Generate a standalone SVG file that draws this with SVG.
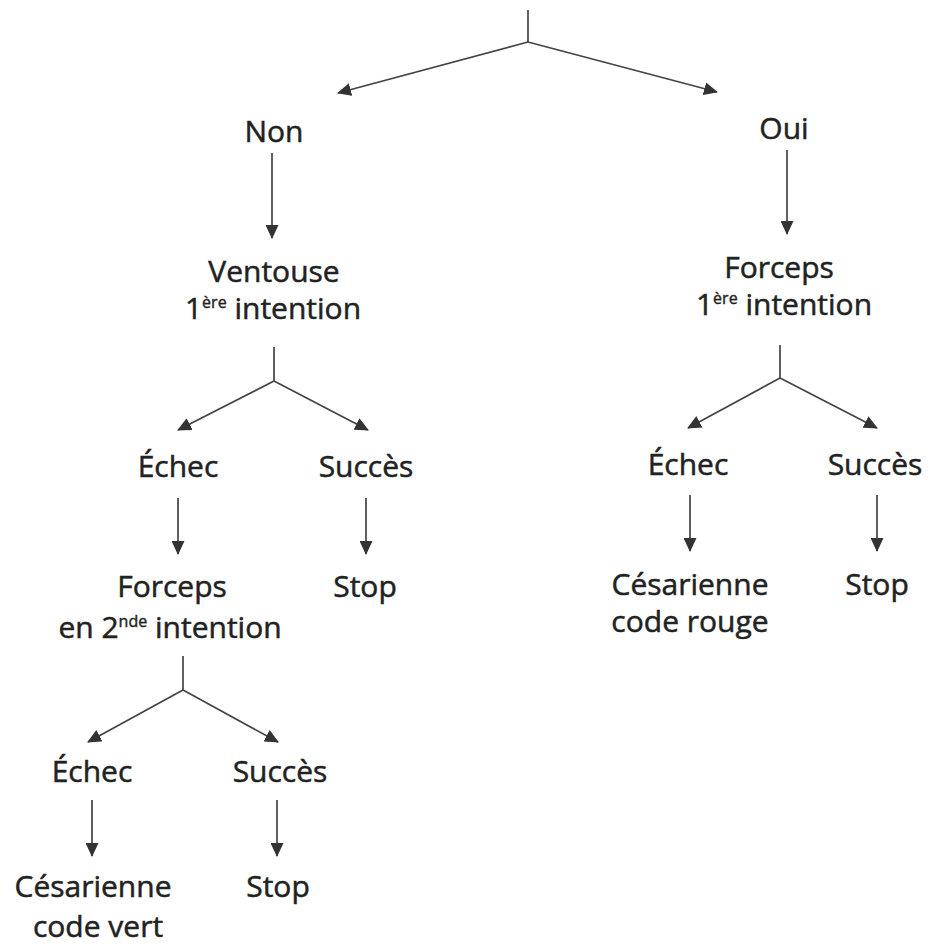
<svg xmlns="http://www.w3.org/2000/svg" width="933" height="946" viewBox="0 0 933 946">
  <style>
    .lbl { font-family: "Open Sans", "Noto Sans", "DejaVu Sans", sans-serif; font-size: 30px; fill: #222; stroke: #222; stroke-width: 0.5; text-anchor: middle; }
    .sup { font-size: 16px; stroke-width: 0.4; }
    .edge { stroke: #444; stroke-width: 1.7; fill: none; }
    .stem { stroke: #444; stroke-width: 1.7; fill: none; }
  </style>
  <defs>
    <marker id="head" viewBox="0 0 14 13" refX="13" refY="6.5" markerWidth="14" markerHeight="13" markerUnits="userSpaceOnUse" orient="auto">
      <path d="M0,0 L14,6.5 L0,13 z" fill="#333"/>
    </marker>
  </defs>

  <rect width="933" height="946" fill="#fff"/>

  <!-- connectors -->
  <g id="connectors">
    <!-- root split -->
    <path class="stem" d="M528 10 V42"/>
    <path class="edge" d="M528 42 L338 93" marker-end="url(#head)"/>
    <path class="edge" d="M528 42 L717 92" marker-end="url(#head)"/>
    <!-- Non / Oui -->
    <path class="edge" d="M272 153 V238" marker-end="url(#head)"/>
    <path class="edge" d="M787 150 V234" marker-end="url(#head)"/>
    <!-- Ventouse split -->
    <path class="stem" d="M274 347 V381"/>
    <path class="edge" d="M274 381 L178 430" marker-end="url(#head)"/>
    <path class="edge" d="M274 381 L368 430" marker-end="url(#head)"/>
    <path class="edge" d="M178 498 V554" marker-end="url(#head)"/>
    <path class="edge" d="M366 498 V554" marker-end="url(#head)"/>
    <!-- Forceps 2nde split -->
    <path class="stem" d="M183 656 V690"/>
    <path class="edge" d="M183 690 L88 742" marker-end="url(#head)"/>
    <path class="edge" d="M183 690 L278 742" marker-end="url(#head)"/>
    <path class="edge" d="M92 800 V856" marker-end="url(#head)"/>
    <path class="edge" d="M277 800 V856" marker-end="url(#head)"/>
    <!-- Forceps 1ère split -->
    <path class="stem" d="M780 345 V378"/>
    <path class="edge" d="M780 378 L688 428" marker-end="url(#head)"/>
    <path class="edge" d="M780 378 L877 428" marker-end="url(#head)"/>
    <path class="edge" d="M690 495 V551" marker-end="url(#head)"/>
    <path class="edge" d="M877 495 V551" marker-end="url(#head)"/>
  </g>

  <!-- left branch -->
  <g id="non"><text class="lbl" x="274" y="142">Non</text></g>
  <g id="ventouse">
    <text class="lbl" x="274" y="282">Ventouse</text>
    <text class="lbl" x="273" y="319">1<tspan class="sup" dy="-11">ère</tspan><tspan dy="11"> intention</tspan></text>
  </g>
  <g id="echec-v"><text class="lbl" x="178" y="477">Échec</text></g>
  <g id="succes-v"><text class="lbl" x="366" y="477">Succès</text></g>
  <g id="stop-v"><text class="lbl" x="365" y="597">Stop</text></g>
  <g id="forceps-2">
    <text class="lbl" x="172" y="597">Forceps</text>
    <text class="lbl" x="170" y="638">en 2<tspan class="sup" dy="-11">nde</tspan><tspan dy="11"> intention</tspan></text>
  </g>
  <g id="echec-f2"><text class="lbl" x="92" y="782">Échec</text></g>
  <g id="succes-f2"><text class="lbl" x="280" y="782">Succès</text></g>
  <g id="cesarienne-vert">
    <text class="lbl" x="93" y="897">Césarienne</text>
    <text class="lbl" x="98" y="937">code vert</text>
  </g>
  <g id="stop-f2"><text class="lbl" x="278" y="897">Stop</text></g>

  <!-- right branch -->
  <g id="oui"><text class="lbl" x="784" y="139">Oui</text></g>
  <g id="forceps-1">
    <text class="lbl" x="779" y="278">Forceps</text>
    <text class="lbl" x="784" y="315">1<tspan class="sup" dy="-11">ère</tspan><tspan dy="11"> intention</tspan></text>
  </g>
  <g id="echec-f1"><text class="lbl" x="688" y="475">Échec</text></g>
  <g id="succes-f1"><text class="lbl" x="875" y="475">Succès</text></g>
  <g id="cesarienne-rouge">
    <text class="lbl" x="690" y="595">Césarienne</text>
    <text class="lbl" x="690" y="632">code rouge</text>
  </g>
  <g id="stop-f1"><text class="lbl" x="877" y="595">Stop</text></g>
</svg>
